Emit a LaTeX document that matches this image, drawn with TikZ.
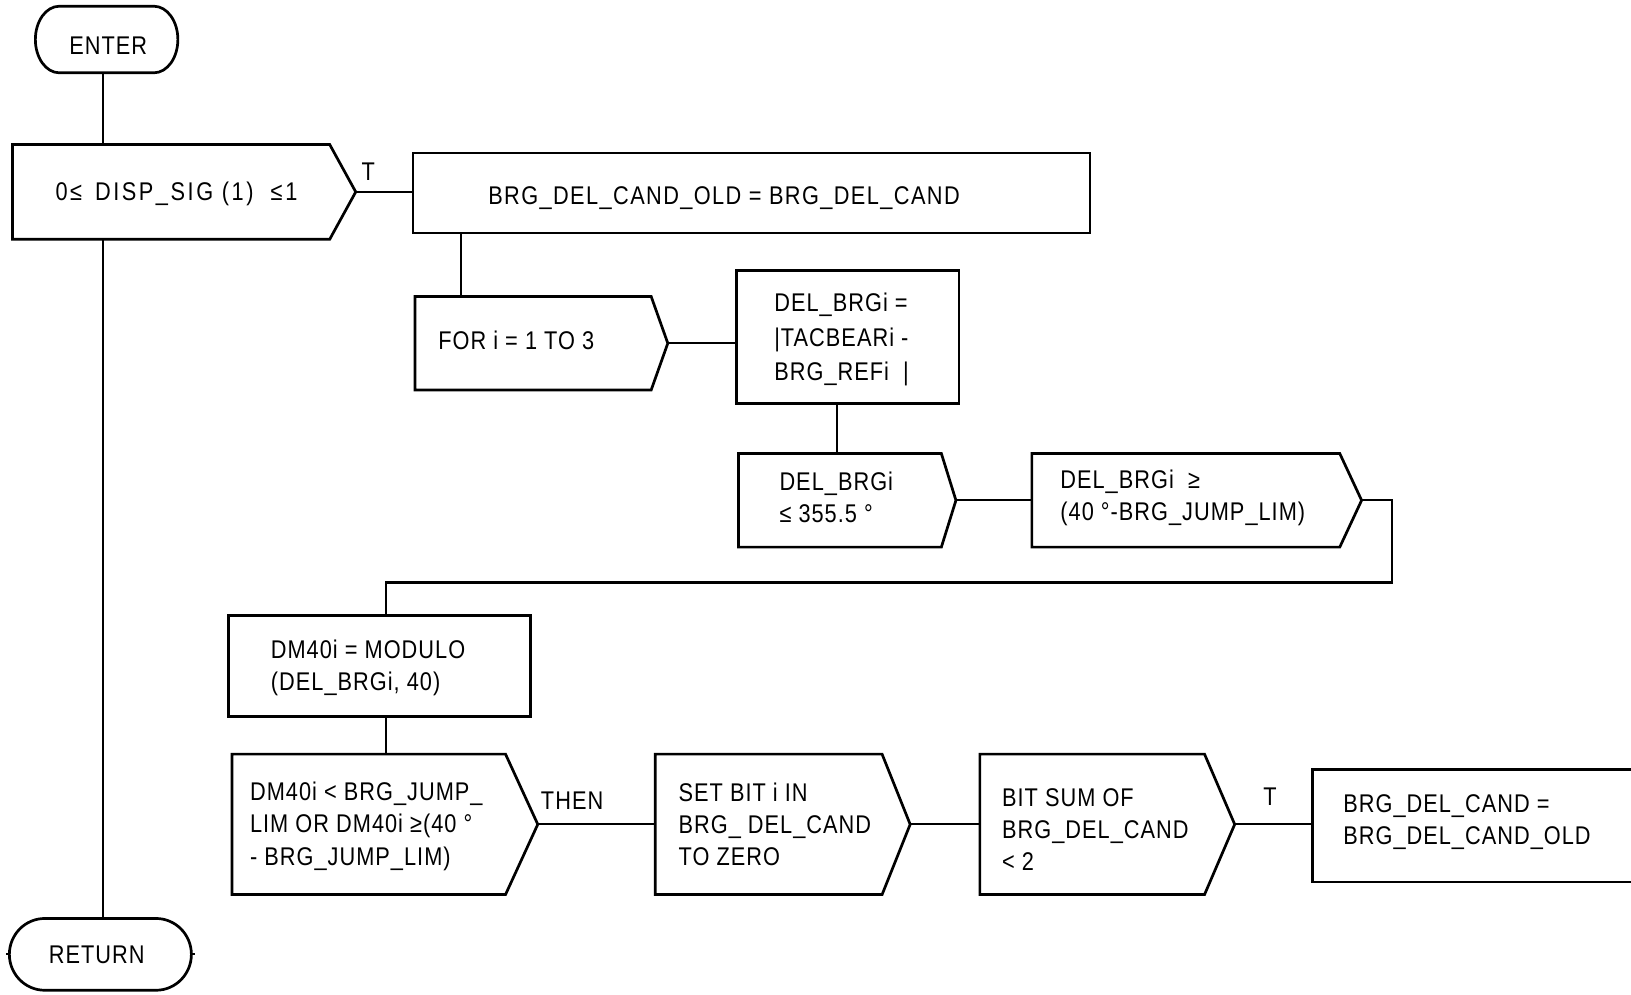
\documentclass[tikz,border=0pt]{standalone}
\usepackage{fontspec}
\setmainfont[FakeStretch=0.85,LetterSpace=4]{Liberation Sans}
\newfontfamily\widefont[FakeStretch=0.85,LetterSpace=10]{Liberation Sans}
\newfontfamily\semiwidefont[FakeStretch=0.85,LetterSpace=5.5]{Liberation Sans}
\usetikzlibrary{fit}

\tikzset{
  shapeline/.style={line width=1.3pt, line join=miter},
  conn/.style={line width=1pt},
  txt/.style={font=\fontsize{12.3pt}{15.5pt}\selectfont, inner sep=0pt, align=left, anchor=west, yshift=-1.2pt},
  ctxt/.style={font=\fontsize{12.3pt}{15.5pt}\selectfont, inner sep=0pt, anchor=center},
  body/.style={inner sep=0pt},
}

% flag (pentagon) shape: name, x-left, y-top, x-flat, x-point, y-bottom
\newcommand\flagshape[6]{%
  \node[body, fit={(#2,#3)(#5,#6)}] (#1) {};
  \draw[shapeline] (#2,#3) -- (#4,#3) -- (#5,{(#3+#6)/2}) -- (#4,#6) -- (#2,#6) -- cycle;
}
% rectangle: name, x-left, y-top, x-right, y-bottom
\newcommand\boxshape[5]{%
  \node[body, shapeline, draw, fit={(#2,#3)(#4,#5)}] (#1) {};
}

\begin{document}
\begin{tikzpicture}[x=0.5pt, y=-0.5pt]
\useasboundingbox (0,0) rectangle (1568,956);
\clip (0,0) rectangle (1568,956);

% ENTER terminal
\node[body, fit={(34,6)(171,70)}] (enter) {};
\draw[shapeline] (57,6) -- (148,6) arc[start angle=90, end angle=-90, x radius=11.5pt, y radius=16pt]
  -- (57,70) arc[start angle=270, end angle=90, x radius=11.5pt, y radius=16pt] -- cycle;
\node[ctxt] (enter-t) at (104,44) {ENTER};

% RETURN terminal
\node[body, fit={(9,883)(184,952)}] (ret) {};
\draw[shapeline] (43,883) -- (150,883) arc[start angle=90, end angle=-90, x radius=17pt, y radius=17.25pt]
  -- (43,952) arc[start angle=270, end angle=90, x radius=17pt, y radius=17.25pt] -- cycle;
\draw[conn] (ret.west) -- ++(-3,0);
\draw[conn] (ret.east) -- ++(3,0);
\node[ctxt] (ret-t) at (93,918) {RETURN};

% shapes
\flagshape{dec1}{12}{139}{317}{342}{230}
\node[txt, font={\widefont\fontsize{12.3pt}{15.5pt}\selectfont}] (dec1-t) at (53,184) {0≤ \,DISP\_SIG (1) \ ≤1};

\boxshape{box1}{397}{147}{1048}{224}
\node[txt, font={\semiwidefont\fontsize{12.3pt}{15.5pt}\selectfont}] (box1-t) at (469,188) {BRG\_DEL\_CAND\_OLD = BRG\_DEL\_CAND};

\flagshape{for}{399}{285}{626}{642}{375}
\node[txt] (for-t) at (421,325) {FOR i = 1 TO 3};

\boxshape{delb}{708}{260}{922}{388}
\node[txt, font=\fontsize{12.3pt}{16.5pt}\selectfont] (delb-t) at (744,324) {DEL\_BRGi =\\|TACBEARi -\\BRG\_REFi \ |};

\flagshape{dec3}{710}{436}{905}{919}{526}
\node[txt] (dec3-t) at (749,476) {DEL\_BRGi\\≤ 355.5 °};

\flagshape{dec4}{992}{436}{1288}{1309}{526}
\node[txt] (dec4-t) at (1019,476) {DEL\_BRGi \ ≥\\(40 °-BRG\_JUMP\_LIM)};

\boxshape{dm40}{220}{592}{510}{689}
\node[txt] (dm40-t) at (260,640) {DM40i = MODULO\\(DEL\_BRGi, 40)};

\flagshape{dec5}{223}{725}{486}{517}{860}
\node[txt] (dec5-t) at (240,792) {DM40i < BRG\_JUMP\_\\LIM OR DM40i ≥(40 °\\- BRG\_JUMP\_LIM)};

\flagshape{setb}{630}{725}{848}{875}{860}
\node[txt] (setb-t) at (652,790) {SET BIT i IN\\BRG\_ DEL\_CAND\\TO ZERO};

\flagshape{bsum}{942}{725}{1158}{1187}{860}
\node[txt] (bsum-t) at (963,795) {BIT SUM OF\\BRG\_DEL\_CAND\\< 2};

\boxshape{fin}{1262}{740}{1600}{848}
\node[txt] (fin-t) at (1291,788) {BRG\_DEL\_CAND =\\BRG\_DEL\_CAND\_OLD};

% labels
\node[ctxt] (lab-t1) at (354,165) {T};
\node[ctxt] (lab-then) at (550,770) {THEN};
\node[ctxt] (lab-t2) at (1221,766) {T};

% connectors
\coordinate (sp) at (99,0);
\coordinate (c1) at (443,0);
\coordinate (c2) at (805,0);
\coordinate (turn) at (1338,560);
\coordinate (c3) at (371,0);

\draw[conn] (enter.south -| sp) -- (dec1.north -| sp);
\draw[conn] (dec1.south -| sp) -- (ret.north -| sp);
\draw[conn] (dec1.east) -- (dec1.east -| box1.west);
\draw[conn] (box1.south -| c1) -- (for.north -| c1);
\draw[conn] (for.east) -- (for.east -| delb.west);
\draw[conn] (delb.south -| c2) -- (dec3.north -| c2);
\draw[conn] (dec3.east) -- (dec3.east -| dec4.west);
\draw[conn] (dec4.east) -| (turn) -- (turn -| c3) -- (dm40.north -| c3);
\draw[conn] (dm40.south -| c3) -- (dec5.north -| c3);
\draw[conn] (dec5.east) -- (dec5.east -| setb.west);
\draw[conn] (setb.east) -- (setb.east -| bsum.west);
\draw[conn] (bsum.east) -- (bsum.east -| fin.west);
\end{tikzpicture}
\end{document}
